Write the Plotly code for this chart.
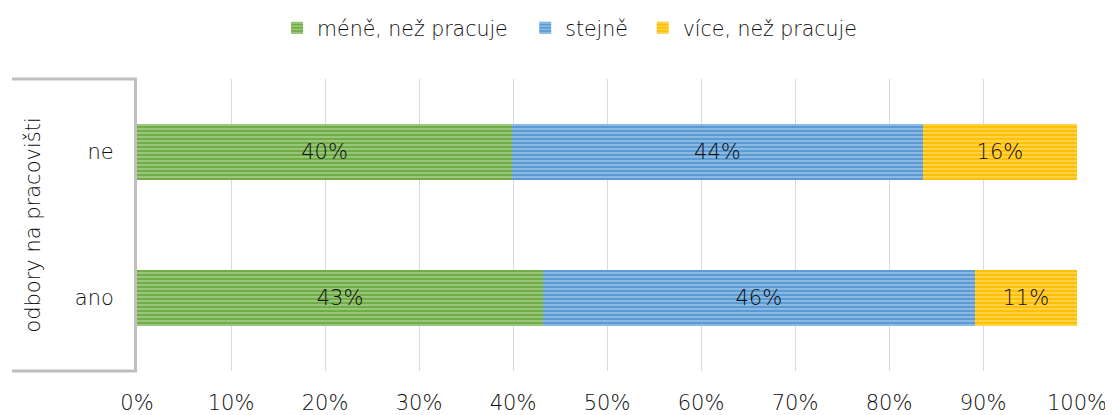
import plotly.graph_objects as go

# data (share of respondents)
categories = ['ano', 'ne']
series_names = ['méně, než pracuje', 'stejně', 'více, než pracuje']
mene = [0.432, 0.399]
stejne = [0.459, 0.437]
vice = [0.109, 0.164]
x_ticks = [0, 0.1, 0.2, 0.3, 0.4, 0.5, 0.6, 0.7, 0.8, 0.9, 1.0]

colors = ['#70ad47', '#5b9bd5', '#ffc000']
stripes = ['#e8f2e0', '#e6eff8', '#fff4d0']
font = 'DejaVu Sans'
txt = '#0d0d0d'

# one legend per series so each entry can sit where the original has it
legend_ids = ['legend', 'legend2', 'legend3']
legend_x = [0.149, 0.413, 0.538]

fig = go.Figure()

for name, vals, col, stripe, lg in zip(series_names, [mene, stejne, vice], colors, stripes, legend_ids):
    fig.add_trace(go.Bar(
        y=categories, x=vals, name=name, orientation='h', legend=lg, showlegend=True,
        marker=dict(color=col, line=dict(width=0),
                    pattern=dict(shape='-', fgcolor=stripe, bgcolor=col,
                                 size=4, solidity=0.35, fillmode='overlay')),
        texttemplate='%{x:.0%}', textposition='inside', insidetextanchor='middle',
        textfont=dict(family=font, size=21, color=txt, weight=300),
        hoverinfo='skip'))

legend_style = dict(orientation='h', xanchor='left', y=1.0, yref='container',
                    yanchor='top', font=dict(size=20.5, color=txt, weight=300),
                    itemwidth=30, bgcolor='rgba(0,0,0,0)')

# page body has an 8px margin -> figure is 8px smaller, margins shifted by 8
fig.update_layout(
    showlegend=True,
    barmode='stack', bargap=0.61,
    width=1105, height=407,
    margin=dict(l=129, r=36, t=71, b=44),
    plot_bgcolor='white', paper_bgcolor='white',
    font=dict(family=font, color=txt, weight=300),
    legend=dict(x=legend_x[0], **legend_style),
    legend2=dict(x=legend_x[1], **legend_style),
    legend3=dict(x=legend_x[2], **legend_style),
    xaxis=dict(range=[0, 1], tickvals=x_ticks, tickformat='.0%', showgrid=True,
               gridcolor='#d9d9d9', gridwidth=1, zeroline=False, automargin=False,
               tickfont=dict(size=21, color=txt, weight=300), ticks='',
               ticklabelstandoff=17),
    yaxis=dict(showline=True, linecolor='#bfbfbf', linewidth=3, ticks='',
               automargin=False,
               tickfont=dict(size=21, color=txt, weight=300), ticklabelstandoff=16,
               showgrid=False),
)

# grouping bracket of the multi-level category axis
for yy in [0, 1]:
    fig.add_shape(type='line', xref='paper', yref='paper', x0=-0.133, x1=0,
                  y0=yy, y1=yy, line=dict(color='#bfbfbf', width=3))

fig.add_annotation(text='odbory na pracovišti', xref='paper', yref='paper',
                   x=-0.111, xanchor='center', y=0.5, textangle=-90, showarrow=False,
                   font=dict(size=21, color=txt, weight=300))

fig.write_html('out.html')
